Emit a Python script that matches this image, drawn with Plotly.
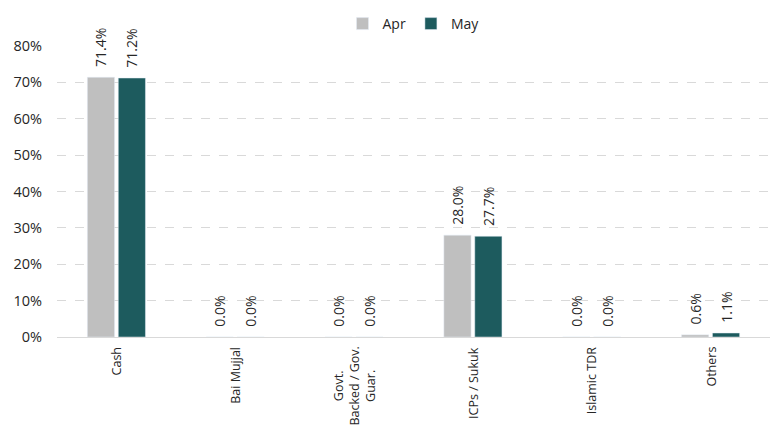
import plotly.graph_objects as go

categories = ["Cash", "Bai Mujjal", "Govt.<br>Backed / Gov.<br>Guar.", "ICPs / Sukuk", "Islamic TDR", "Others"]
apr_values = [0.714, 0.0, 0.0, 0.280, 0.0, 0.006]
may_values = [0.712, 0.0, 0.0, 0.277, 0.0, 0.011]
y_tickvals = [0, 0.1, 0.2, 0.3, 0.4, 0.5, 0.6, 0.7, 0.8]

FONT = "Open Sans, DejaVu Sans, sans-serif"
x_idx = list(range(len(categories)))
PAD = "\u00a0\u00a0"

fig = go.Figure()
fig.add_trace(go.Bar(
    name="Apr", x=x_idx, y=apr_values, marker_color="#BFBFBF",
    text=[f"{PAD}{v*100:.1f}%" for v in apr_values], textposition="outside",
    textangle=-90, textfont=dict(family=FONT, size=14, color="#262626"),
    cliponaxis=False, constraintext="none",
))
fig.add_trace(go.Bar(
    name="May", x=x_idx, y=may_values, marker_color="#1D5B5E",
    text=[f"{PAD}{v*100:.1f}%" for v in may_values], textposition="outside",
    textangle=-90, textfont=dict(family=FONT, size=14, color="#262626"),
    cliponaxis=False, constraintext="none",
))

for i, c in enumerate(categories):
    fig.add_annotation(
        x=i, xref="x", y=0, yref="paper", yshift=-8,
        text=c, textangle=-90, showarrow=False,
        xanchor="center", yanchor="top", align="center",
        font=dict(family=FONT, size=12.5, color="#262626"),
    )

# page body has an 8px margin; compensate so the plot area matches the reference
fig.update_layout(
    width=783, height=425,
    margin=dict(l=49, r=21, t=38, b=96, autoexpand=False),
    paper_bgcolor="white", plot_bgcolor="white",
    barmode="group", bargap=0.48, bargroupgap=0.12,
    legend=dict(orientation="h", x=0.5, xanchor="center", y=1.0, yanchor="top",
                yref="container", font=dict(family=FONT, size=14, color="#262626"),
                itemwidth=30, traceorder="normal", tracegroupgap=0),
    font=dict(family=FONT, size=13, color="#262626"),
)
fig.update_xaxes(
    range=[-0.5, len(categories) - 0.5],
    showticklabels=False, showgrid=False, ticks="",
    showline=True, linecolor="#D9D9D9", linewidth=1, zeroline=False,
)
fig.update_yaxes(
    range=[0, 0.8], tickvals=y_tickvals, tickformat=".0%",
    showgrid=True, gridcolor="#D9D9D9", griddash="dash", gridwidth=1,
    zeroline=False, showline=False, ticks="", ticklabelstandoff=14,
    tickfont=dict(family=FONT, size=14.5, color="#262626"),
)

fig.write_html("out.html")
